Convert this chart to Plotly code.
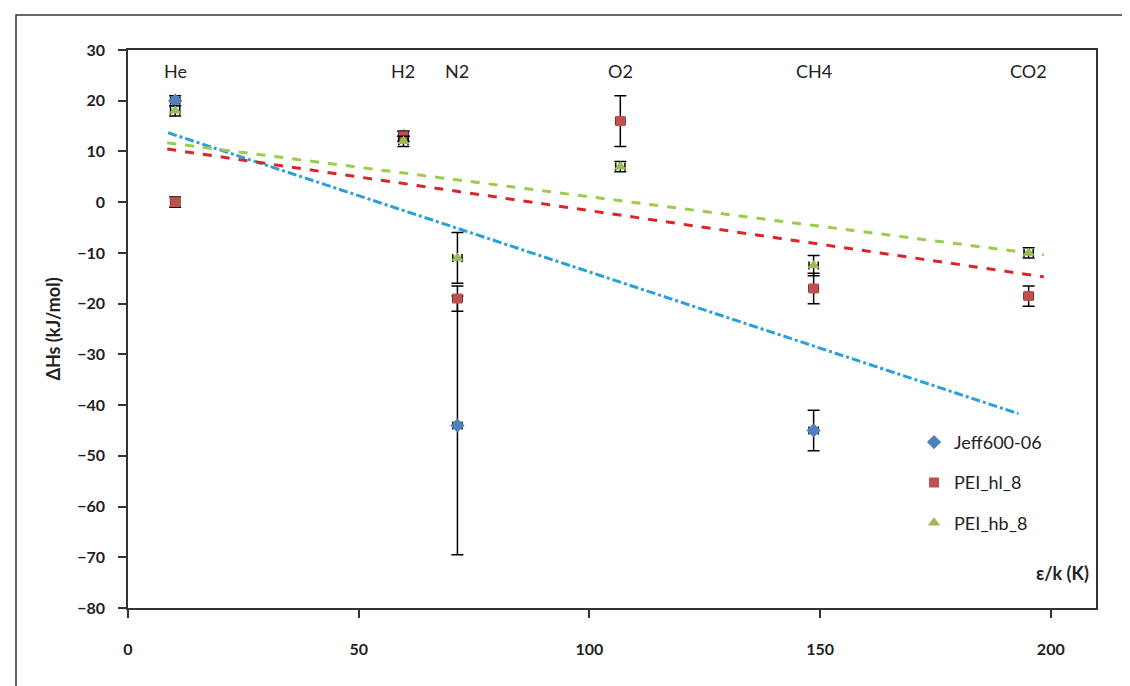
import plotly.graph_objects as go

# gas labels and their epsilon/k positions
gases = ["He", "H2", "N2", "O2", "CH4", "CO2"]
gas_x = [10.22, 59.7, 71.4, 106.7, 148.6, 195.2]

# Jeff600-06 (no O2 / CO2 point visible)
jeff_x = [10.22, 59.7, 71.4, 148.6]
jeff_y = [20, 13, -44, -45]
jeff_err = [1, 1, 25.5, 4]

# PEI_hl_8
hl_x = [10.22, 59.7, 71.4, 106.7, 148.6, 195.2]
hl_y = [0, 13, -19, 16, -17, -18.5]
hl_err = [1, 1, 2.5, 5, 3, 2]

# PEI_hb_8
hb_x = [10.22, 59.7, 71.4, 106.7, 148.6, 195.2]
hb_y = [18, 12, -11, 7, -12.5, -10]
hb_err = [1, 1, 5, 1, 2, 1]

x_err = 1.0

# trend lines (slope, intercept, x-range)
jeff_trend = dict(slope=-0.3005, intercept=16.3, x=[8.7, 193])
hl_trend = dict(slope=-0.1326, intercept=11.6, x=[8.5, 198.5])
hb_trend = dict(slope=-0.1163, intercept=12.7, x=[8.5, 198.5])

FONT = "Lato, Liberation Sans, sans-serif"
fig = go.Figure()

def trend(t, color, dash):
    xs = t["x"]
    ys = [t["slope"] * v + t["intercept"] for v in xs]
    fig.add_trace(go.Scatter(x=xs, y=ys, mode="lines", showlegend=False,
                             line=dict(color=color, width=3, dash=dash), hoverinfo="skip"))

trend(jeff_trend, "#2a9fd8", "dashdot")
trend(hl_trend, "#d9262a", "dash")
trend(hb_trend, "#9acd4a", "dash")

def series(name, xs, ys, errs, color, symbol, size):
    fig.add_trace(go.Scatter(
        x=xs, y=ys, mode="markers", name=name, legendgroup=name,
        marker=dict(color=color, symbol=symbol, size=size),
        error_y=dict(type="data", array=errs, visible=True, color="black", thickness=1.5, width=6),
        error_x=dict(type="constant", value=x_err, visible=True, color="black", thickness=1.5, width=4),
    ))

series("Jeff600-06", jeff_x, jeff_y, jeff_err, "#4F81BD", "diamond", 11)
series("PEI_hl_8", hl_x, hl_y, hl_err, "#C0504D", "square", 10)
series("PEI_hb_8", hb_x, hb_y, hb_err, "#9BBB59", "triangle-up", 11)

for g, gx in zip(gases, gas_x):
    fig.add_annotation(x=gx, y=25.8, text=g, showarrow=False, xref="x", yref="y",
                       font=dict(size=18, color="#222222", family=FONT))

fig.add_annotation(x=0.995, y=0.04, xref="paper", yref="paper", xanchor="right", yanchor="bottom",
                   text="<b>ε/k (K)</b>", showarrow=False,
                   font=dict(size=18, color="#222222", family=FONT))

# outer chart border (top and left visible)
fig.add_shape(type="rect", xref="paper", yref="paper", x0=-0.1157, y0=-0.4, x1=1.3, y1=1.0627,
              line=dict(color="#333333", width=1.5), fillcolor="rgba(0,0,0,0)", layer="below")

fig.update_layout(
    width=1130, height=686,
    margin=dict(l=120, r=42, t=42, b=86),
    paper_bgcolor="white", plot_bgcolor="white",
    font=dict(family=FONT, size=16, color="#222222"),
    legend=dict(x=0.812, y=0.33, xanchor="left", yanchor="top", bgcolor="rgba(255,255,255,0)",
                font=dict(size=18), itemsizing="trace", tracegroupgap=14),
    xaxis=dict(range=[0, 209.8], tickvals=[0, 50, 100, 150, 200], showgrid=False, zeroline=False,
               showline=True, linecolor="#333333", linewidth=1.5, mirror=True,
               ticks="outside", ticklen=8, tickcolor="#333333", tickwidth=1.5,
               tickfont=dict(size=16, family=FONT, weight="bold"), ticklabelstandoff=18),
    yaxis=dict(range=[-80, 30], dtick=10, showgrid=False, zeroline=False,
               showline=True, linecolor="#333333", linewidth=1.5, mirror=True,
               ticks="outside", ticklen=8, tickcolor="#333333", tickwidth=1.5,
               tickfont=dict(size=16, family=FONT, weight="bold"), ticklabelstandoff=10,
               title=dict(text="<b>ΔHs (kJ/mol)</b>", font=dict(size=18), standoff=12)),
)

fig.write_html("out.html")
